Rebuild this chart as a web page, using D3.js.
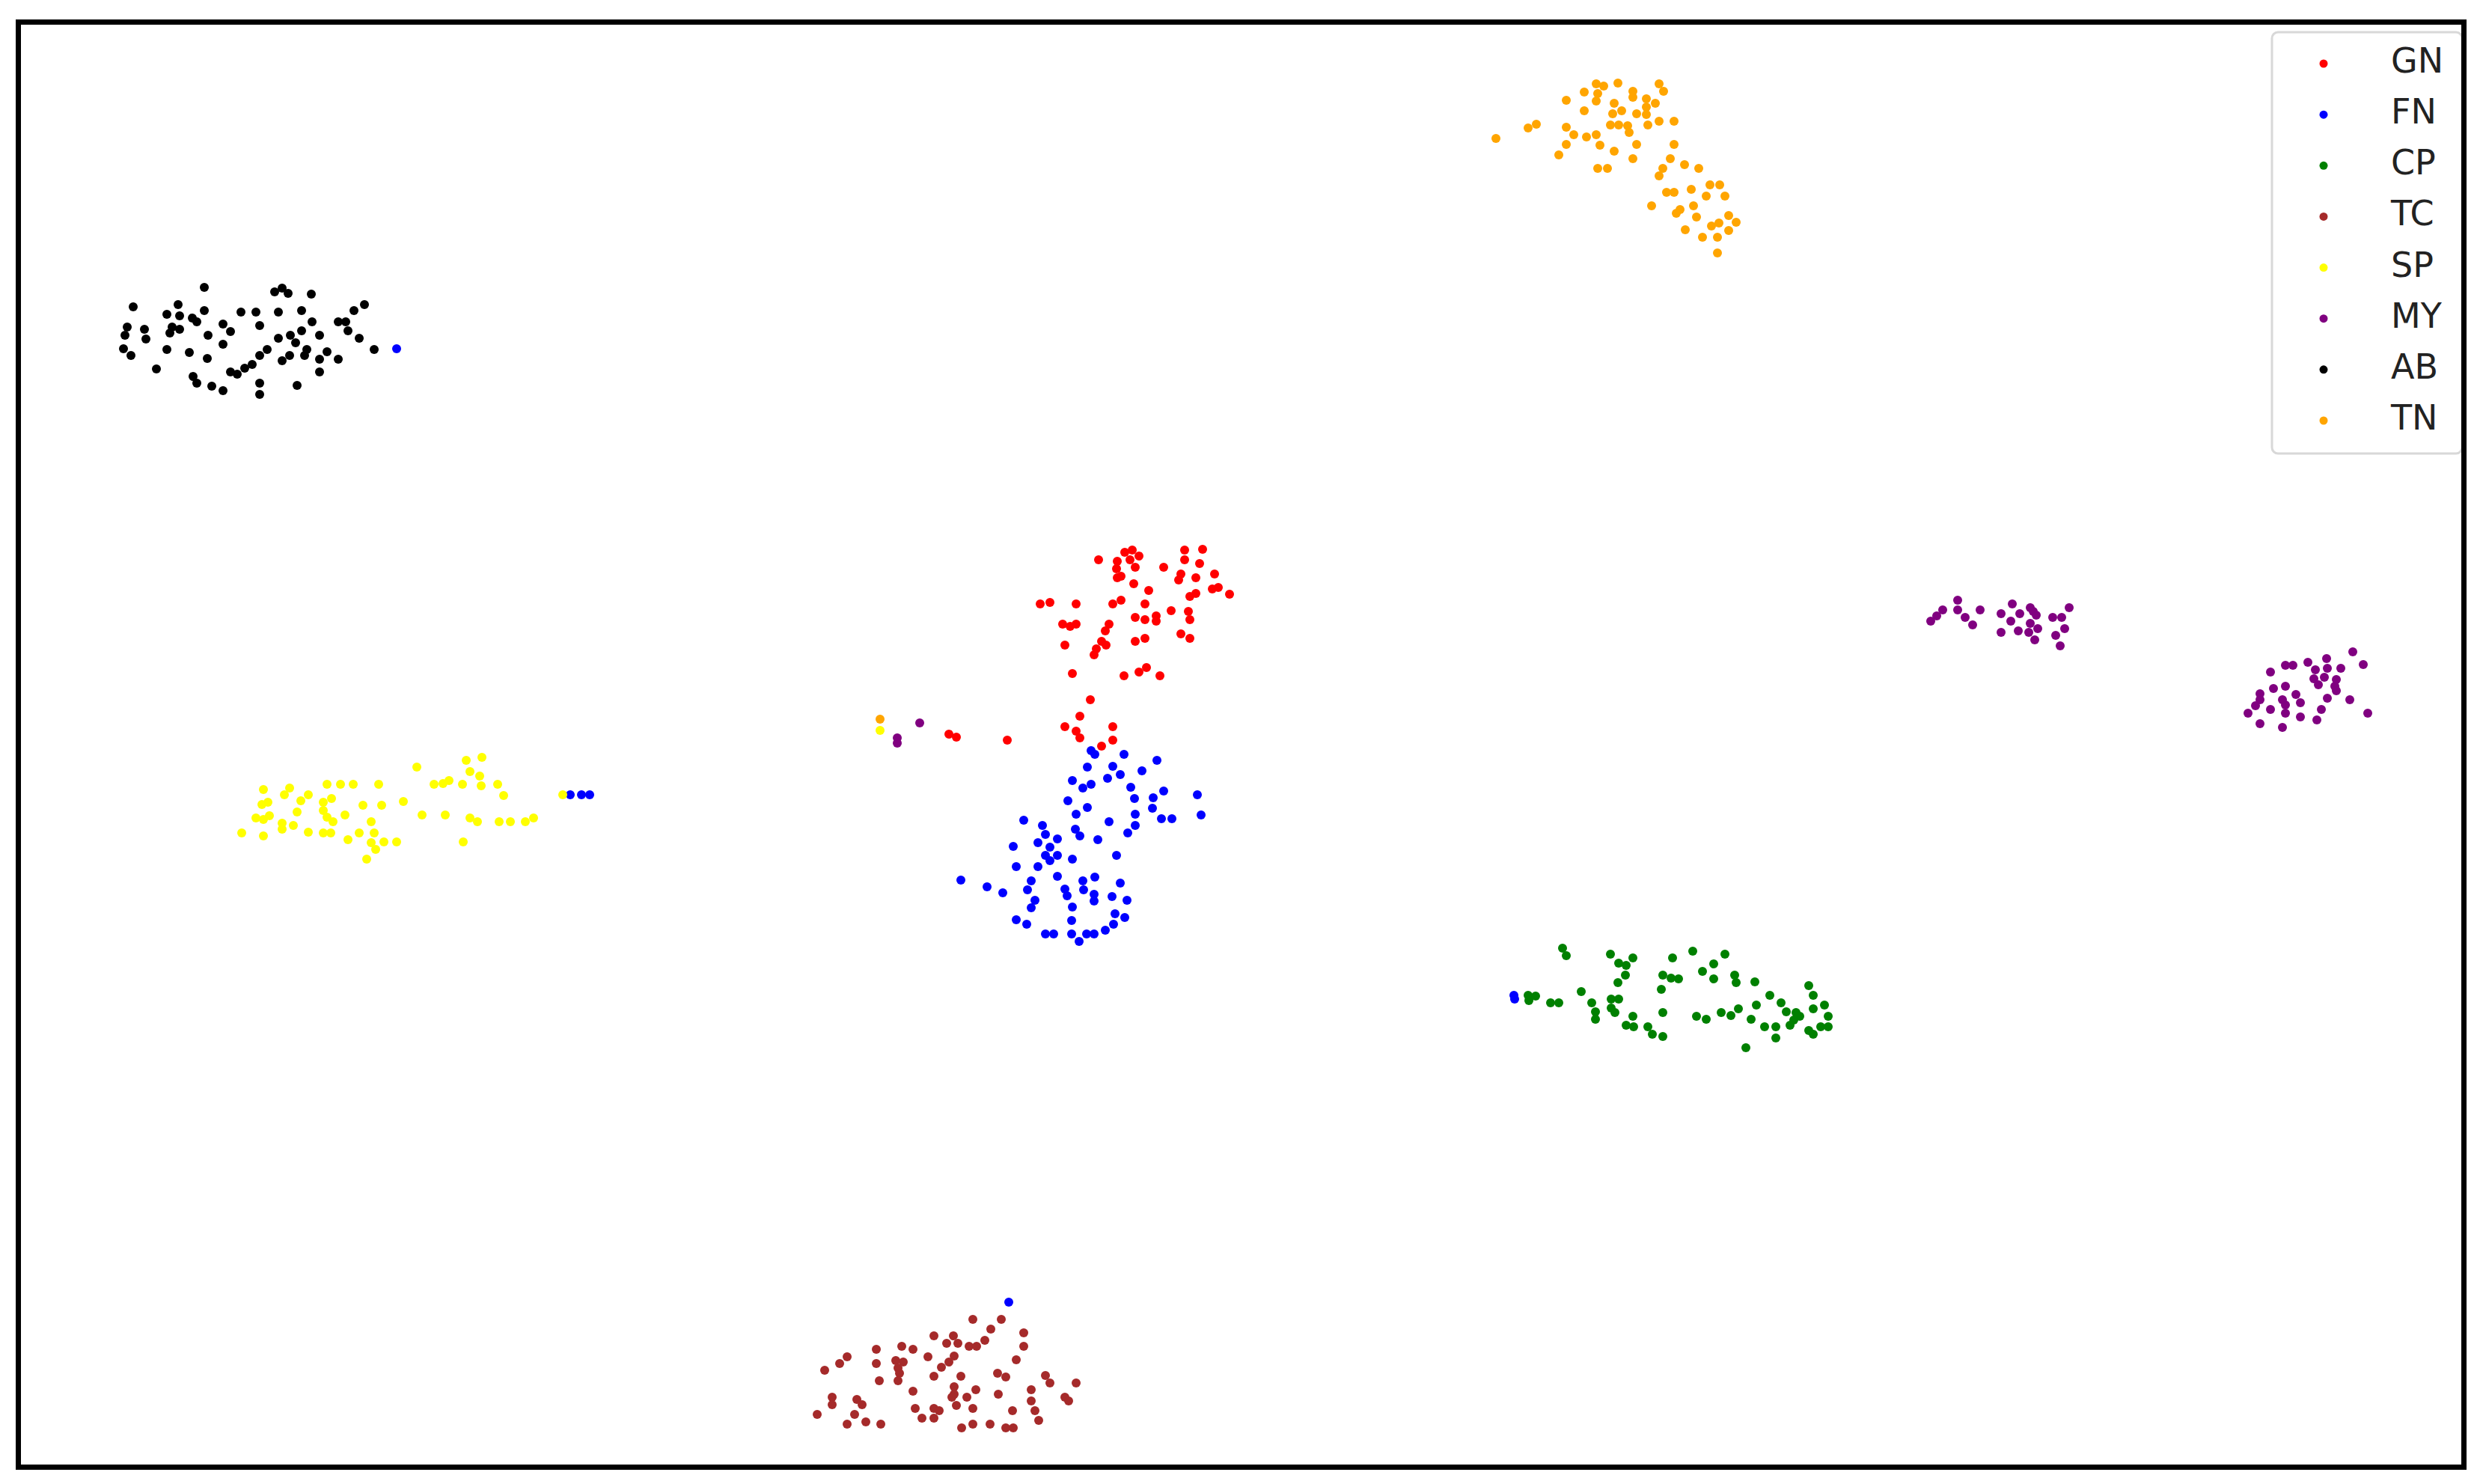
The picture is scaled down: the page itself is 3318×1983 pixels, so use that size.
<!DOCTYPE html>
<html><head><meta charset="utf-8">
<script src="https://cdn.jsdelivr.net/npm/d3@7"></script>
<style>html,body{margin:0;padding:0;background:#fff;} svg{display:block;}</style>
</head><body><svg id="chart" width="3318" height="1983"></svg>
<script>
// class labels and colours (legend order)
const classes = ["GN","FN","CP","TC","SP","MY","AB","TN"];
const colors  = ["red","blue","green","brown","yellow","purple","black","orange"];

// 2-D embedding coordinates, one array per class
const GN = [[-190,247],[-165,245],[-155,257],[-145,260],[-136,252],[-148,247],[-141,237],[-166,235],[-165,223],[-160,225],[-143,215],[-123,206],[-103,237],[-75,260],[-75,247],[-51,261],[-55,242],[-80,228],[-83,220],[-60,223],[-35,228],[-38,208],[-30,210],[-15,201],[-68,198],[-60,202],[-268,188],[-255,190],[-220,188],[-171,188],[-160,193],[-128,188],[-238,161],[-228,158],[-220,161],[-176,161],[-181,152],[-186,138],[-180,133],[-193,128],[-196,120],[-141,170],[-128,167],[-113,172],[-93,179],[-70,178],[-68,167],[-235,133],[-141,138],[-128,142],[-80,148],[-68,142],[-225,95],[-156,92],[-136,97],[-126,103],[-108,92],[-201,60],[-215,38],[-235,24],[-220,18],[-215,9],[-171,24],[-171,6],[-186,-2],[-113,165],[-390,14],[-380,10],[-312,6]];
const FN = [[-200,-8],[-195,-13],[-156,-13],[-112,-21],[-205,-30],[-171,-29],[-178,-45],[-161,-40],[-132,-35],[-225,-48],[-211,-58],[-200,-53],[-147,-57],[-142,-72],[-103,-62],[-117,-71],[-118,-85],[-58,-67],[-53,-94],[-231,-75],[-205,-84],[-220,-93],[-176,-103],[-141,-93],[-141,-108],[-151,-118],[-106,-99],[-92,-99],[-290,-101],[-265,-108],[-261,-120],[-245,-126],[-271,-131],[-255,-137],[-221,-113],[-215,-122],[-191,-127],[-304,-136],[-261,-148],[-245,-148],[-255,-155],[-225,-153],[-166,-148],[-300,-163],[-271,-163],[-374,-181],[-339,-190],[-318,-198],[-280,-182],[-285,-194],[-275,-208],[-280,-218],[-245,-176],[-235,-193],[-232,-202],[-225,-217],[-211,-182],[-195,-177],[-210,-194],[-196,-200],[-196,-209],[-161,-185],[-172,-203],[-152,-208],[-300,-234],[-286,-240],[-226,-235],[-261,-253],[-250,-253],[-226,-253],[-216,-263],[-206,-253],[-196,-253],[-181,-248],[-170,-240],[-168,-226],[-155,-231],[-1128,529],[-896,-67],[-881,-67],[-870,-67],[365,-335],[366,-340],[-310,-745]];
const CP = [[384,-335],[394,-336],[385,-342],[414,-345],[425,-345],[430,-272],[435,-282],[455,-330],[469,-345],[474,-357],[474,-367],[494,-280],[505,-292],[524,-285],[515,-295],[514,-308],[504,-318],[495,-340],[505,-340],[495,-352],[500,-358],[524,-363],[515,-375],[525,-377],[544,-377],[550,-387],[564,-390],[577,-285],[564,-308],[575,-312],[585,-313],[562,-327],[564,-358],[604,-276],[609,-363],[622,-367],[617,-303],[632,-293],[632,-313],[647,-280],[660,-308],[662,-318],[642,-358],[655,-362],[665,-353],[687,-317],[689,-348],[682,-367],[707,-335],[700,-377],[715,-377],[715,-392],[675,-405],[722,-345],[729,-357],[742,-358],[739,-368],[734,-375],[759,-322],[765,-335],[765,-353],[780,-348],[785,-363],[785,-377],[775,-377],[759,-382],[765,-387],[747,-363]];
const TC = [[-358,-768],[-320,-768],[-334,-781],[-290,-786],[-290,-804],[-300,-822],[-410,-790],[-384,-790],[-393,-800],[-378,-800],[-363,-804],[-353,-804],[-342,-796],[-383,-817],[-390,-825],[-400,-832],[-418,-818],[-438,-808],[-453,-804],[-487,-808],[-487,-827],[-461,-823],[-451,-825],[-458,-833],[-456,-840],[-458,-850],[-483,-850],[-526,-818],[-536,-827],[-556,-836],[-410,-844],[-374,-844],[-325,-840],[-314,-845],[-261,-843],[-255,-853],[-220,-853],[-546,-872],[-546,-882],[-513,-875],[-506,-882],[-566,-895],[-516,-895],[-526,-908],[-501,-905],[-481,-908],[-438,-864],[-435,-887],[-426,-900],[-410,-887],[-410,-900],[-403,-890],[-383,-858],[-383,-868],[-366,-872],[-380,-883],[-354,-862],[-358,-887],[-373,-913],[-358,-908],[-335,-908],[-324,-868],[-305,-890],[-314,-913],[-304,-913],[-280,-862],[-280,-877],[-275,-890],[-270,-903],[-235,-872],[-230,-877],[-386,-872]];
const SP = [[-1335,-118],[-1306,-122],[-1306,-60],[-1308,-80],[-1300,-77],[-1316,-98],[-1298,-95],[-1306,-100],[-1271,-58],[-1278,-67],[-1281,-105],[-1281,-113],[-1266,-108],[-1261,-90],[-1256,-75],[-1246,-67],[-1246,-117],[-1221,-53],[-1203,-53],[-1186,-53],[-1215,-72],[-1226,-77],[-1226,-88],[-1221,-97],[-1213,-103],[-1226,-118],[-1216,-118],[-1197,-94],[-1193,-127],[-1178,-118],[-1173,-81],[-1162,-103],[-1158,-118],[-1162,-131],[-1156,-140],[-1145,-130],[-1128,-130],[-1168,-153],[-1152,-53],[-1148,-81],[-1119,-76],[-1101,-30],[-1094,-94],[-1078,-53],[-1066,-52],[-1058,-48],[-1063,-94],[-1040,-53],[-1035,-21],[-1014,-17],[-1030,-36],[-1017,-42],[-1015,-55],[-1030,-98],[-1020,-103],[-1039,-130],[-993,-53],[-985,-68],[-991,-103],[-976,-103],[-956,-103],[-945,-98],[-906,-67],[-482,19]];
const MY = [[922,165],[930,172],[938,180],[958,193],[958,180],[968,170],[978,160],[988,180],[1016,175],[1031,188],[1029,165],[1041,175],[1016,150],[1039,152],[1055,183],[1063,173],[1055,162],[1065,155],[1053,150],[1061,140],[1085,170],[1097,170],[1107,183],[1101,155],[1089,146],[1095,132],[1059,178],[1486,124],[1500,107],[1451,115],[1426,110],[1396,106],[1406,106],[1376,97],[1436,100],[1452,102],[1470,102],[1434,88],[1448,90],[1464,87],[1440,80],[1462,78],[1464,72],[1396,78],[1380,75],[1362,68],[1362,60],[1392,60],[1396,53],[1410,67],[1416,56],[1452,62],[1482,60],[1444,47],[1438,33],[1416,37],[1396,42],[1376,47],[1356,52],[1346,42],[1362,28],[1392,23],[1506,42],[-429,29],[-459,9],[-459,2]];
const AB = [[-1385,611],[-1480,585],[-1488,558],[-1491,547],[-1465,555],[-1463,542],[-1493,529],[-1483,520],[-1435,575],[-1420,588],[-1418,573],[-1428,558],[-1418,555],[-1431,550],[-1401,570],[-1395,565],[-1385,580],[-1380,547],[-1360,562],[-1350,552],[-1360,535],[-1435,528],[-1405,524],[-1381,516],[-1449,502],[-1400,492],[-1395,483],[-1375,479],[-1360,473],[-1336,578],[-1316,578],[-1311,560],[-1350,498],[-1341,495],[-1331,503],[-1321,508],[-1311,520],[-1301,528],[-1311,483],[-1311,468],[-1291,605],[-1281,610],[-1273,603],[-1286,578],[-1255,580],[-1241,565],[-1242,602],[-1286,543],[-1270,547],[-1255,553],[-1263,537],[-1281,513],[-1271,520],[-1248,528],[-1251,520],[-1231,547],[-1221,525],[-1231,515],[-1206,515],[-1231,498],[-1261,480],[-1206,565],[-1196,565],[-1193,553],[-1185,580],[-1171,588],[-1178,543],[-1158,528]];
const TN = [[341,810],[384,824],[395,829],[435,861],[459,872],[475,883],[485,880],[477,870],[475,860],[459,847],[504,884],[524,873],[524,865],[559,883],[565,873],[499,857],[509,847],[497,843],[494,828],[505,828],[517,827],[519,818],[529,843],[542,863],[542,852],[554,857],[542,842],[544,828],[559,833],[579,833],[435,825],[445,815],[462,812],[475,815],[435,802],[425,788],[480,801],[499,793],[529,802],[524,783],[477,770],[490,770],[579,802],[574,783],[564,770],[559,760],[593,775],[612,770],[569,738],[579,738],[549,720],[602,742],[627,748],[640,748],[622,733],[647,733],[587,715],[605,720],[609,705],[582,710],[594,688],[617,678],[629,693],[639,697],[637,678],[652,707],[662,698],[652,687],[637,657],[-482,34]];

const seriesData = [GN, FN, CP, TC, SP, MY, AB, TN];

const svg = d3.select("#chart");
svg.append("rect").attr("width", 3318).attr("height", 1983).attr("fill", "#fff");

const frame = {left: 24.5, top: 29.5, right: 3292.5, bottom: 1960.5};
const x = d3.scaleLinear().domain([-1633.5, 1634.5]).range([frame.left, frame.right]);
const y = d3.scaleLinear().domain([-965.5, 965.5]).range([frame.bottom, frame.top]);

const plot = svg.append("g");
classes.forEach((c, i) => {
  plot.append("g").attr("class", "series-" + c)
    .selectAll("circle").data(seriesData[i]).join("circle")
    .attr("cx", d => x(d[0]))
    .attr("cy", d => y(d[1]))
    .attr("r", 6)
    .attr("fill", colors[i]);
});

// legend
const leg = svg.append("g");
leg.append("rect")
  .attr("x", 3036).attr("y", 43).attr("width", 254).attr("height", 563)
  .attr("rx", 8).attr("fill", "#fff").attr("stroke", "#d8d8d8").attr("stroke-width", 3);
const legY = d3.scaleLinear().domain([0, 7]).range([85, 562]);
classes.forEach((c, i) => {
  leg.append("circle").attr("cx", 3105).attr("cy", legY(i)).attr("r", 5.5).attr("fill", colors[i]);
  leg.append("text").attr("x", 3195).attr("y", legY(i) + 12)
    .attr("font-family", "DejaVu Sans, sans-serif").attr("font-size", 46)
    .attr("fill", "#222").text(c);
});

// frame
svg.append("rect")
  .attr("x", frame.left).attr("y", frame.top)
  .attr("width", frame.right - frame.left).attr("height", frame.bottom - frame.top)
  .attr("fill", "none").attr("stroke", "#000").attr("stroke-width", 7);
</script>
</body></html>
